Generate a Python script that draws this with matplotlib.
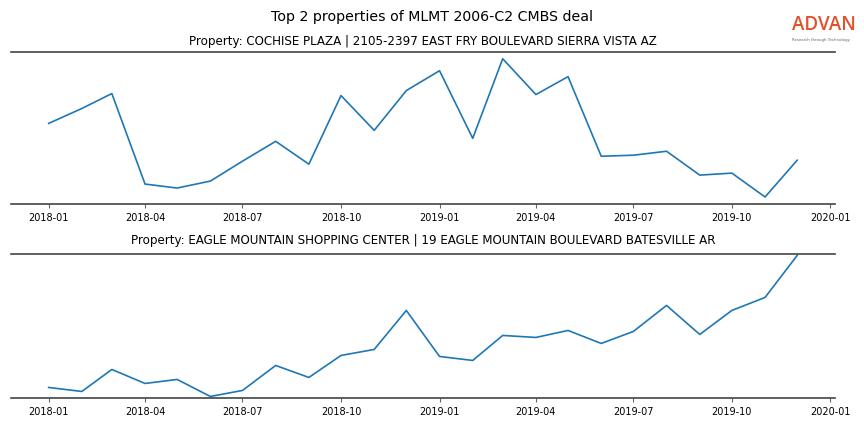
import pandas as pd
import matplotlib
matplotlib.use("Agg")
import matplotlib.pyplot as plt
import matplotlib.dates as mdates

months = pd.date_range("2018-01-01", "2019-12-01", freq="MS")

# monthly visits (relative units)
cochise = [86, 101, 116, 25, 21, 28, 48, 68, 45, 114, 79, 119,
           139, 71, 151, 115, 133, 53, 54, 58, 34, 36, 12, 49]
eagle = [12, 8, 30, 16, 20, 3, 9, 34, 22, 44, 50, 89,
         43, 39, 64, 62, 69, 56, 68, 94, 65, 89, 102, 144]

titles = ["Property: COCHISE PLAZA | 2105-2397 EAST FRY BOULEVARD SIERRA VISTA AZ",
          "Property: EAGLE MOUNTAIN SHOPPING CENTER | 19 EAGLE MOUNTAIN BOULEVARD BATESVILLE AR"]

fig = plt.figure(figsize=(8.64, 4.32), dpi=100)
ax1 = fig.add_axes([0.013, 0.528, 0.953, 0.352])
ax2 = fig.add_axes([0.013, 0.079, 0.953, 0.333])

for ax, vals, t, pad in [(ax1, cochise, titles[0], 5), (ax2, eagle, titles[1], 7)]:
    ax.plot(months, vals, color="#1f77b4", linewidth=1.2)
    ax.set_title(t, fontsize=8.6, pad=pad)
    ax.spines["left"].set_visible(False)
    ax.spines["right"].set_visible(False)
    for s in ["top", "bottom"]:
        ax.spines[s].set_color("#444444")
        ax.spines[s].set_linewidth(1.2)
    ax.set_yticks([])
    ax.xaxis.set_major_locator(mdates.MonthLocator(bymonth=[1, 4, 7, 10]))
    ax.xaxis.set_major_formatter(mdates.DateFormatter("%Y-%m"))
    ax.tick_params(axis="x", labelsize=7, length=3, color="#666666", width=0.8)

ax2.margins(y=0.01)

fig.suptitle("Top 2 properties of MLMT 2006-C2 CMBS deal", fontsize=10.2, y=0.978)

fig.text(0.9165, 0.918, "ADVAN", color="#e0522b", fontsize=13.5, weight="semibold",
         family="Open Sans", ha="left", va="bottom")
fig.text(0.917, 0.903, "Research through Technology", color="#666666", fontsize=2.8, ha="left", va="bottom")

fig.savefig("out.png", dpi=100)
